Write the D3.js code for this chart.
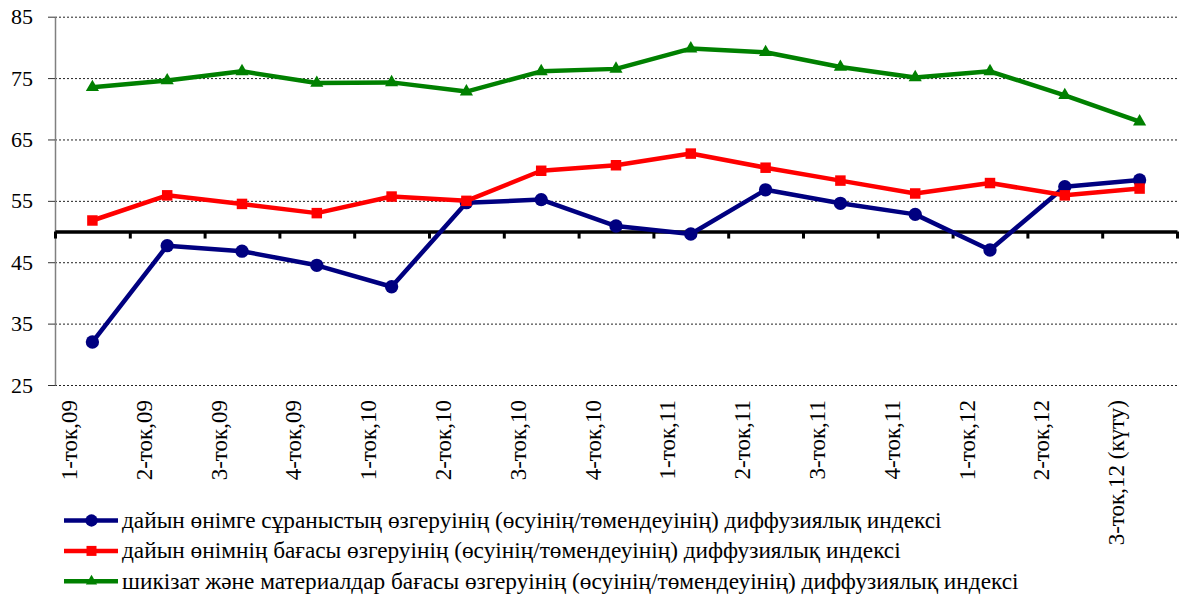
<!DOCTYPE html>
<html>
<head>
<meta charset="utf-8">
<script src="https://cdn.jsdelivr.net/npm/d3@7"></script>
<style>
  html, body { margin: 0; padding: 0; background: #fff; }
  svg { display: block; }
  svg text { font-family: "Liberation Serif", "Times New Roman", Tinos, serif !important; }
</style>
</head>
<body>
<svg id="fig" width="1179" height="599"></svg>
<script>
const categories = ["1-ток,09","2-ток,09","3-ток,09","4-ток,09","1-ток,10","2-ток,10","3-ток,10","4-ток,10","1-ток,11","2-ток,11","3-ток,11","4-ток,11","1-ток,12","2-ток,12","3-ток,12 (күту)"];
const demandIndex = [32.0, 47.7, 46.8, 44.5, 41.0, 54.7, 55.2, 50.9, 49.6, 56.8, 54.6, 52.8, 47.0, 57.3, 58.4];
const productPriceIndex = [51.8, 55.9, 54.5, 53.0, 55.7, 55.0, 59.9, 60.8, 62.7, 60.4, 58.3, 56.2, 57.9, 55.9, 57.0];
const materialPriceIndex = [73.5, 74.6, 76.1, 74.2, 74.3, 72.8, 76.1, 76.5, 79.8, 79.2, 76.8, 75.1, 76.1, 72.2, 67.9];
const yTicks = [25, 35, 45, 55, 65, 75, 85];
const baselineValue = 50;
const seriesNames = [
  "дайын өнімге сұраныстың өзгеруінің (өсуінің/төмендеуінің) диффузиялық индексі",
  "дайын өнімнің бағасы өзгеруінің (өсуінің/төмендеуінің) диффузиялық индексі",
  "шикізат және материалдар бағасы өзгеруінің (өсуінің/төмендеуінің) диффузиялық индексі"
];

const FONT = '"Liberation Serif", "Times New Roman", Tinos, serif';

const series = [
  { name: seriesNames[0], values: demandIndex, color: "#000080", symbol: d3.symbolCircle, size: 140, legendSize: 120 },
  { name: seriesNames[1], values: productPriceIndex, color: "#FF0000", symbol: d3.symbolSquare, size: 110, legendSize: 100 },
  { name: seriesNames[2], values: materialPriceIndex, color: "#008000", symbol: d3.symbolTriangle, size: 75, legendSize: 55 }
];

const svg = d3.select("#fig");
const plotLeft = 55, plotRight = 1177, plotTop = 16.7, plotBottom = 385;

const x = d3.scaleBand().domain(categories).range([plotLeft, plotRight]).padding(0);
const xBound = d3.scaleLinear().domain([0, categories.length]).range([plotLeft, plotRight]);
const y = d3.scaleLinear().domain([25, 85]).range([plotBottom, plotTop]);
const cx = c => x(c) + x.bandwidth() / 2;

// gridlines
const grid = svg.append("g").attr("transform", `translate(${plotLeft},0)`)
  .call(d3.axisLeft(y).tickValues(yTicks).tickSize(-(plotRight - plotLeft)).tickFormat(""));
grid.select(".domain").remove();
grid.selectAll(".tick line").attr("stroke", "#222").attr("stroke-width", 1).attr("stroke-dasharray", "2,2");

// y axis
const yAxis = svg.append("g").attr("transform", `translate(${plotLeft},0)`)
  .call(d3.axisLeft(y).tickValues(yTicks).tickSize(7).tickSizeOuter(0).tickPadding(15));
yAxis.attr("font-family", FONT).attr("font-size", 22);
yAxis.select(".domain").attr("stroke", "#808080").attr("stroke-width", 1.5);
yAxis.selectAll(".tick line").attr("stroke", "#333").attr("stroke-width", 1);
yAxis.selectAll(".tick text")
  .style("font-family", FONT, "important").style("font-size", "22px").attr("fill", "#000");

// baseline axis at 50 with boundary ticks
const xAxis = svg.append("g").attr("transform", `translate(0,${y(baselineValue)})`)
  .call(d3.axisBottom(xBound).tickValues(d3.range(0, categories.length + 1)).tickSize(7).tickSizeOuter(0).tickFormat(""));
xAxis.select(".domain").attr("stroke", "#000").attr("stroke-width", 3.5);
xAxis.selectAll(".tick line").attr("stroke", "#000").attr("stroke-width", 3);

// category labels
const labAxis = svg.append("g").attr("transform", "translate(0,400)")
  .call(d3.axisBottom(x).tickSize(0).tickSizeOuter(0));
labAxis.attr("font-family", FONT).attr("font-size", 23);
labAxis.select(".domain").remove();
labAxis.selectAll(".tick text")
  .attr("x", 0).attr("y", -15.5).attr("dy", null)
  .attr("transform", "rotate(-90)")
  .attr("text-anchor", "end")
  .style("font-family", FONT, "important").style("font-size", "23px").attr("fill", "#000");

// lines
const line = d3.line().x((d, i) => cx(categories[i])).y(d => y(d));
series.forEach(s => {
  svg.append("path").datum(s.values)
    .attr("fill", "none").attr("stroke", s.color).attr("stroke-width", 4.5)
    .attr("stroke-linejoin", "round").attr("d", line);
  svg.append("g").selectAll("path").data(s.values).join("path")
    .attr("d", d3.symbol().type(s.symbol).size(s.size))
    .attr("transform", (d, i) => `translate(${cx(categories[i])},${y(d)})`)
    .attr("fill", s.color);
});

// legend
const legend = svg.append("g").attr("font-family", FONT).attr("font-size", 23.3);
series.forEach((s, i) => {
  const ly = 520.5 + i * 30.4;
  const g = legend.append("g").attr("transform", `translate(0,${ly})`);
  g.append("line").attr("x1", 64).attr("x2", 118).attr("y1", 0).attr("y2", 0)
    .attr("stroke", s.color).attr("stroke-width", 4.5);
  g.append("path").attr("d", d3.symbol().type(s.symbol).size(s.legendSize)())
    .attr("transform", "translate(91.5,0)").attr("fill", s.color);
  g.append("text").attr("x", 122).attr("y", 7.5).text(s.name)
    .style("font-family", FONT, "important").style("font-size", "23.3px").attr("fill", "#000");
});
</script>
</body>
</html>
